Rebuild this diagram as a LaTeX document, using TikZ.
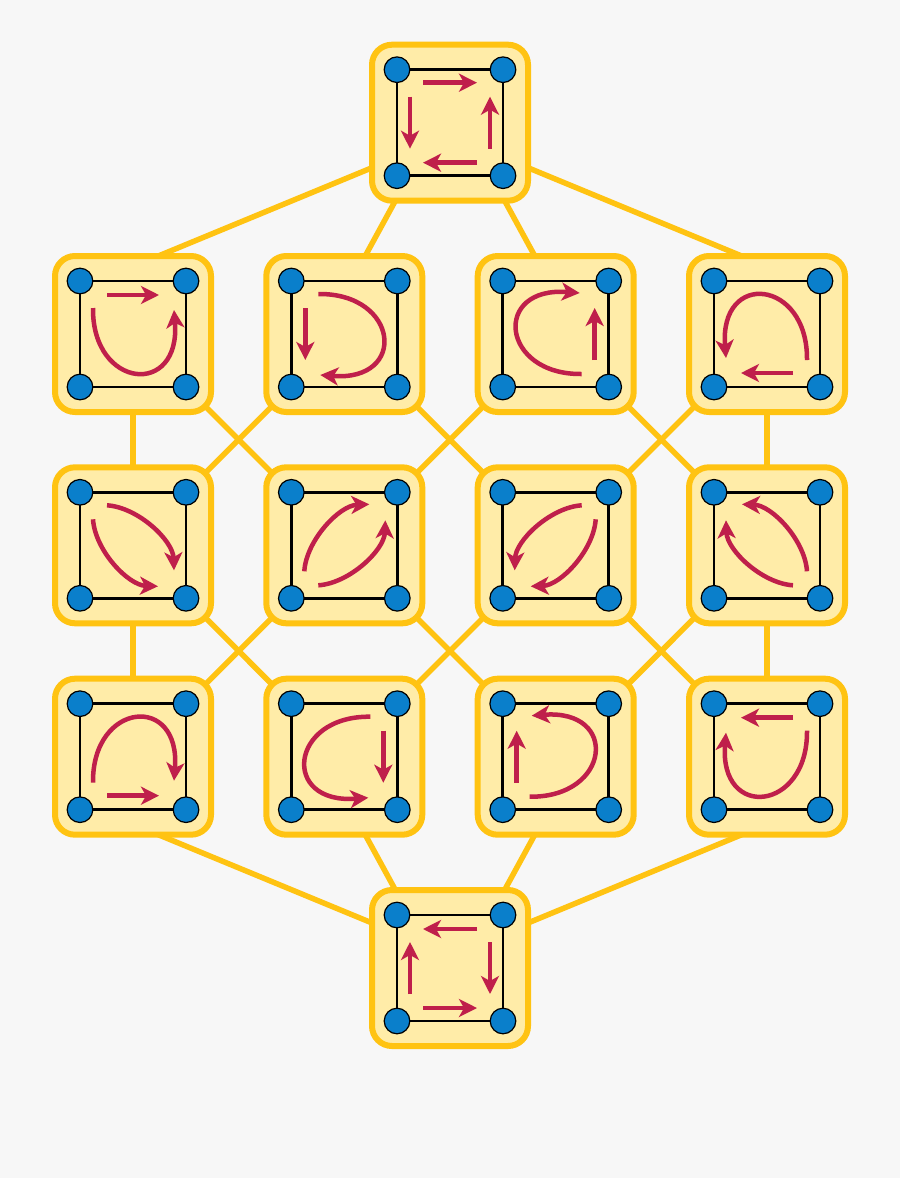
\documentclass[tikz,border=0pt]{standalone}
\usetikzlibrary{arrows.meta}
\definecolor{bgc}{HTML}{F7F7F7}
\definecolor{yel}{HTML}{FFC312}
\definecolor{boxfill}{HTML}{FFECA8}
\definecolor{dotblue}{HTML}{0A7FCB}
\definecolor{arrred}{HTML}{BF1F4B}
\pgfdeclarelayer{background}
\pgfsetlayers{background,main}
\newcommand{\frameat}[1]{%
  \begin{scope}[shift={(#1.center)}]
    \draw[sq] (-53,-53) rectangle (53,53);
    \foreach \px/\py in {-53/-53,53/-53,-53/53,53/53}
      \draw[dot] (\px,\py) circle[radius=12.8pt];
  \end{scope}}
\newcommand{\patU}{%
  \draw[arr] (-26,-39) -- (26,-39);
  \draw[arr] (-40,-26) .. controls (-41,55) and (48,64) .. (41,-24);}
\newcommand{\patS}{%
  \draw[arr] (-26,-40) .. controls (5,-38) and (40,-5) .. (41,25);
  \draw[arr] (-40,-26) .. controls (-38,5) and (-5,40) .. (25,41);}
\newcommand{\pat}[3]{\begin{scope}[shift={(#1.center)},#2] #3 \end{scope}}
\begin{document}
\begin{tikzpicture}[x=1pt,y=-1pt,
  boxn/.style={draw=yel, line width=6pt, fill=boxfill, rounded corners=20pt,
    minimum width=156pt, minimum height=156pt, inner sep=0pt, outer sep=0pt},
  conn/.style={draw=yel, line width=5.5pt},
  sq/.style={draw=black, line width=2.5pt},
  dot/.style={fill=dotblue, draw=black, line width=1.2pt},
  arr/.style={draw=arrred, line width=4.5pt, -{Stealth[length=18pt,width=18pt,inset=5pt]}}]
\useasboundingbox (0,0) rectangle (900,1178);
% boxes
\node[boxn] (T) at (450,122.7) {};
\node[boxn] (B1) at (133,334) {};
\node[boxn] (B2) at (344.3,334) {};
\node[boxn] (B3) at (555.7,334) {};
\node[boxn] (B4) at (767,334) {};
\node[boxn] (B5) at (133,545.3) {};
\node[boxn] (B6) at (344.3,545.3) {};
\node[boxn] (B7) at (555.7,545.3) {};
\node[boxn] (B8) at (767,545.3) {};
\node[boxn] (B9) at (133,756.7) {};
\node[boxn] (B10) at (344.3,756.7) {};
\node[boxn] (B11) at (555.7,756.7) {};
\node[boxn] (B12) at (767,756.7) {};
\node[boxn] (Bo) at (450,968) {};
% background and connectors
\begin{pgfonlayer}{background}
\fill[bgc] (0,0) rectangle (900,1178);
\begin{scope}[shorten <=-12pt, shorten >=-12pt]
\draw[conn] (T.210) -- (B1.72);
\draw[conn] (T.235) -- (B2.75);
\draw[conn] (T.305) -- (B3.105);
\draw[conn] (T.330) -- (B4.108);
\draw[conn] (Bo.150) -- (B9.288);
\draw[conn] (Bo.125) -- (B10.285);
\draw[conn] (Bo.55) -- (B11.255);
\draw[conn] (Bo.30) -- (B12.252);
\end{scope}
\draw[conn] (B1.center) -- (B5.center);
\draw[conn] (B1.center) -- (B6.center);
\draw[conn] (B2.center) -- (B5.center);
\draw[conn] (B2.center) -- (B7.center);
\draw[conn] (B3.center) -- (B6.center);
\draw[conn] (B3.center) -- (B8.center);
\draw[conn] (B4.center) -- (B7.center);
\draw[conn] (B4.center) -- (B8.center);
\draw[conn] (B5.center) -- (B9.center);
\draw[conn] (B5.center) -- (B10.center);
\draw[conn] (B6.center) -- (B9.center);
\draw[conn] (B6.center) -- (B11.center);
\draw[conn] (B7.center) -- (B10.center);
\draw[conn] (B7.center) -- (B12.center);
\draw[conn] (B8.center) -- (B11.center);
\draw[conn] (B8.center) -- (B12.center);
\end{pgfonlayer}
% frames
\foreach \n in {T,B1,B2,B3,B4,B5,B6,B7,B8,B9,B10,B11,B12,Bo} {\frameat{\n}}
% top and bottom
\begin{scope}[shift={(T.center)}]
  \draw[arr] (-27,-40) -- (27,-40);
  \draw[arr] (40,26) -- (40,-26);
  \draw[arr] (27,40) -- (-27,40);
  \draw[arr] (-40,-26) -- (-40,26);
\end{scope}
\begin{scope}[shift={(Bo.center)}]
  \draw[arr] (27,-39) -- (-27,-39);
  \draw[arr] (40,-26) -- (40,26);
  \draw[arr] (-27,40) -- (27,40);
  \draw[arr] (-40,26) -- (-40,-26);
\end{scope}
% row 1
\pat{B1}{}{\patU}
\pat{B2}{cm={0,-1,-1,0,(0,0)}}{\patU}
\pat{B3}{rotate=180,cm={0,-1,-1,0,(0,0)}}{\patU}
\pat{B4}{rotate=180}{\patU}
% row 2
\pat{B5}{}{\patS}
\pat{B6}{yscale=-1}{\patS}
\pat{B7}{xscale=-1}{\patS}
\pat{B8}{rotate=180}{\patS}
% row 3
\pat{B9}{yscale=-1}{\patU}
\pat{B10}{xscale=-1,cm={0,-1,-1,0,(0,0)}}{\patU}
\pat{B11}{yscale=-1,cm={0,-1,-1,0,(0,0)}}{\patU}
\pat{B12}{xscale=-1}{\patU}
\end{tikzpicture}
\end{document}
